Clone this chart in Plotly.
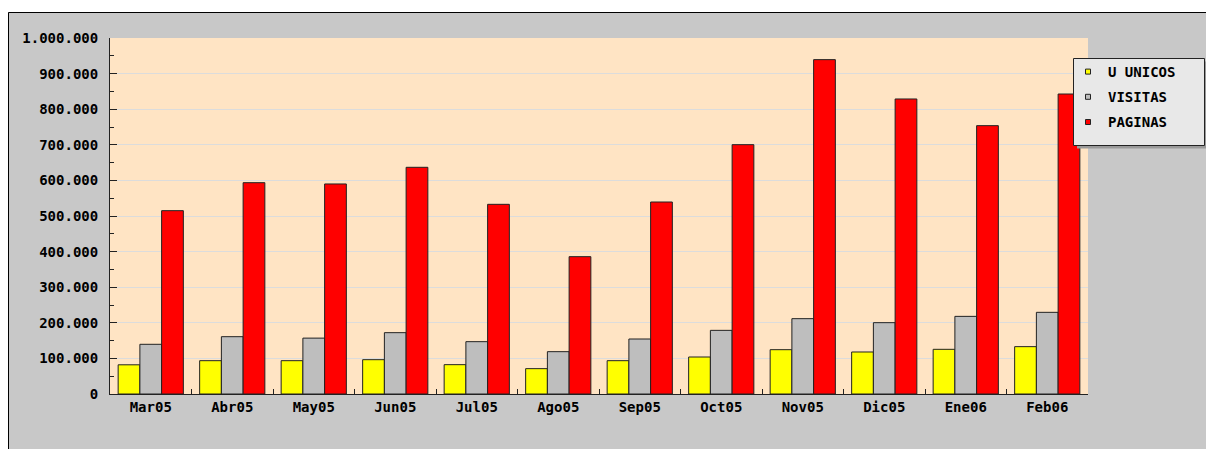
import plotly.graph_objects as go

months = ["Mar05", "Abr05", "May05", "Jun05", "Jul05", "Ago05",
          "Sep05", "Oct05", "Nov05", "Dic05", "Ene06", "Feb06"]
u_unicos = [82000, 93600, 93600, 96400, 82400, 71200,
            93600, 103900, 124500, 118000, 125500, 133000]
visitas = [139600, 161000, 157000, 172300, 147000, 118900,
           154500, 178800, 211600, 200400, 218100, 229400]
paginas = [515000, 593600, 590000, 636800, 532800, 385800,
           539300, 700400, 939200, 828700, 753800, 842700]

series_names = ["U UNICOS", "VISITAS", "PAGINAS"]
series_colors = ["#FFFF00", "#BEBEBE", "#FF0000"]
series_values = [u_unicos, visitas, paginas]

# page body has an 8px margin; work in page pixels and convert
OFF = 8
W, H = 1214 - OFF, 449 - OFF
L, R, T, B = 110 - OFF, 1088 - OFF, 38 - OFF, 394 - OFF


def px_x(p):  # page pixel -> paper x
    return (p - OFF - L) / (R - L)


def px_y(p):  # page pixel -> paper y
    return (B - (p - OFF)) / (B - T)


FONT = "DejaVu Sans Mono"
fig = go.Figure()
for name, col, vals in zip(series_names, series_colors, series_values):
    fig.add_trace(go.Bar(x=months, y=vals, name=name, showlegend=False,
                         marker=dict(color=col, line=dict(color="#222222", width=1)),
                         hoverinfo="y"))
for name, col in zip(series_names, series_colors):
    fig.add_trace(go.Scatter(x=[None], y=[None], mode="markers", name=name,
                             legendgroup=name,
                             marker=dict(symbol="square", size=5, color=col,
                                         line=dict(color="#222222", width=1))))

shapes = [
    # white strip above the panel
    dict(type="rect", xref="paper", yref="paper", layer="below",
         x0=px_x(0), x1=px_x(1300), y0=px_y(12), y1=px_y(0),
         fillcolor="#FFFFFF", line=dict(width=0)),
    # outer panel border
    dict(type="rect", xref="paper", yref="paper", layer="below",
         x0=px_x(8.5), x1=px_x(1212.5), y0=px_y(480), y1=px_y(12.5),
         fillcolor="rgba(0,0,0,0)", line=dict(color="#000000", width=1)),
    # legend shadow
    dict(type="rect", xref="paper", yref="paper", layer="above",
         x0=px_x(1077), x1=px_x(1208), y0=px_y(148.5), y1=px_y(61.5),
         fillcolor="#9A9A9A", line=dict(width=0)),
    # legend box
    dict(type="rect", xref="paper", yref="paper", layer="above",
         x0=px_x(1073.5), x1=px_x(1204.5), y0=px_y(145.5), y1=px_y(58.5),
         fillcolor="#E8E8E8", line=dict(color="#222222", width=1)),
]

fig.update_layout(
    width=W, height=H,
    margin=dict(l=L, r=W - R, t=T, b=H - B, pad=0),
    paper_bgcolor="#C8C8C8",
    plot_bgcolor="#FFE4C4",
    separators=",.",
    barmode="group", bargap=0.2, bargroupgap=0,
    font=dict(family=FONT, size=14, color="#000000", weight="bold"),
    shapes=shapes,
    showlegend=True,
    legend=dict(x=px_x(1068), y=px_y(56), xanchor="left", yanchor="top",
                bgcolor="rgba(0,0,0,0)", borderwidth=0,
                font=dict(family=FONT, size=14, color="#000000", weight="bold"),
                traceorder="grouped", tracegroupgap=4, itemwidth=30),
    xaxis=dict(type="category", showgrid=False, showline=True, linecolor="#222222",
               linewidth=1, ticks="inside", ticklen=5, tickcolor="#222222",
               tickson="boundaries", fixedrange=True,
               tickfont=dict(family=FONT, size=14, color="#000000", weight="bold")),
    yaxis=dict(range=[0, 1000000], dtick=100000, tickformat=",",
               showgrid=True, gridcolor="#DCDCDC", gridwidth=1,
               showline=True, linecolor="#222222", linewidth=1,
               ticks="inside", ticklen=7, tickcolor="#222222",
               minor=dict(dtick=50000, ticks="inside", ticklen=4, tickcolor="#222222",
                          showgrid=False),
               zeroline=False, ticklabelstandoff=8, fixedrange=True,
               tickfont=dict(family=FONT, size=14, color="#000000", weight="bold")),
)

fig.write_html("out.html")
